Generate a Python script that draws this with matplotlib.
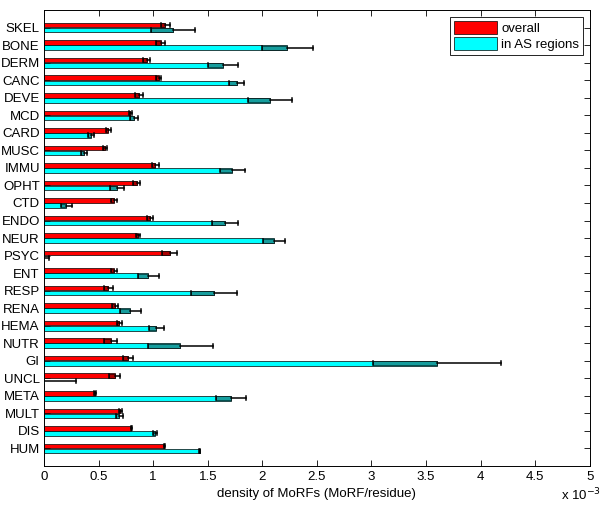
import matplotlib
matplotlib.use("Agg")
import matplotlib.pyplot as plt
from matplotlib.patches import Patch
import numpy as np

plt.rcParams['font.family'] = ['Liberation Sans', 'DejaVu Sans']

# categories from top to bottom
categories = ["SKEL", "BONE", "DERM", "CANC", "DEVE", "MCD", "CARD", "MUSC",
              "IMMU", "OPHT", "CTD", "ENDO", "NEUR", "PSYC", "ENT", "RESP",
              "RENA", "HEMA", "NUTR", "GI", "UNCL", "META", "MULT", "DIS", "HUM"]

# density of MoRFs, x 10^-3
overall = [1.11, 1.07, 0.94, 1.05, 0.87, 0.79, 0.59, 0.56,
           1.02, 0.85, 0.64, 0.97, 0.86, 1.15, 0.64, 0.59,
           0.65, 0.69, 0.61, 0.77, 0.65, 0.47, 0.70, 0.80, 1.10]
overall_err = [0.04, 0.04, 0.03, 0.025, 0.035, 0.015, 0.02, 0.02,
               0.033, 0.03, 0.025, 0.028, 0.018, 0.065, 0.027, 0.043,
               0.028, 0.025, 0.06, 0.048, 0.05, 0.01, 0.015, 0.005, 0.005]

as_regions = [1.18, 2.23, 1.64, 1.765, 2.07, 0.825, 0.43, 0.365,
              1.725, 0.67, 0.205, 1.655, 2.11, 0.0, 0.955, 1.56,
              0.79, 1.03, 1.25, 3.60, 0.0, 1.715, 0.69, 1.015, 1.425]
as_err = [0.20, 0.23, 0.135, 0.07, 0.20, 0.04, 0.025, 0.025,
          0.113, 0.065, 0.05, 0.118, 0.10, 0.05, 0.095, 0.21,
          0.095, 0.072, 0.30, 0.59, 0.29, 0.135, 0.03, 0.02, 0.008]

n = len(categories)
ypos = np.arange(n, 0, -1)  # SKEL at top

fig = plt.figure(figsize=(6.0, 5.07), dpi=100)
ax = fig.add_axes([0.0733, 0.081, 0.9097, 0.899])

h = 0.26
off = 0.145


def draw_series(vals, errs, yc, color, dark):
    ax.barh(yc, vals, height=h, color=color, edgecolor="black", linewidth=0.5, zorder=2)
    for v, e, y in zip(vals, errs, yc):
        # darker inner half of the error bar
        ax.barh(y, e, left=v - e, height=h * 0.85, color=dark, edgecolor="black",
                linewidth=0.5, alpha=0.85, zorder=3)
        ax.plot([v, v + e], [y, y], color="black", linewidth=1.1, zorder=4)
        ax.plot([v - e, v - e], [y - 0.11, y + 0.11], color="black", linewidth=1.1, zorder=4)
        ax.plot([v + e, v + e], [y - 0.11, y + 0.11], color="black", linewidth=1.1, zorder=4)


draw_series(overall, overall_err, ypos + off, "#ff0000", "#9a0000")
draw_series(as_regions, as_err, ypos - off, "#00ffff", "#1a8c8c")

ax.set_xlim(0, 5)
ax.set_ylim(0, n + 1)
ax.set_xticks(np.arange(0, 5.01, 0.5))
ax.set_xticklabels(["0", "0.5", "1", "1.5", "2", "2.5", "3", "3.5", "4", "4.5", "5"], fontsize=9.5)
ax.set_yticks(ypos)
ax.set_yticklabels(categories, fontsize=9.5)
ax.tick_params(direction="in", top=True, right=True, length=4, width=0.6, pad=3)
ax.tick_params(axis="x", pad=4)
for sp in ax.spines.values():
    sp.set_linewidth(0.7)

ax.set_xlabel("density of MoRFs (MoRF/residue)", fontsize=9.5, labelpad=3)
fig.text(0.935, 0.008, r"x 10$^{-3}$", fontsize=9.5, ha="left", va="bottom")

handles = [Patch(facecolor="#ff0000", edgecolor="black", linewidth=0.5, label="overall"),
           Patch(facecolor="#00ffff", edgecolor="black", linewidth=0.5, label="in AS regions")]
leg = ax.legend(handles=handles, loc="upper right", fontsize=9.5, fancybox=False,
                edgecolor="black", framealpha=1, borderaxespad=0.5,
                handlelength=3.3, handleheight=1.2, handletextpad=0.3,
                borderpad=0.3, labelspacing=0.15)
leg.get_frame().set_linewidth(0.6)

fig.savefig("out.png", dpi=100)
